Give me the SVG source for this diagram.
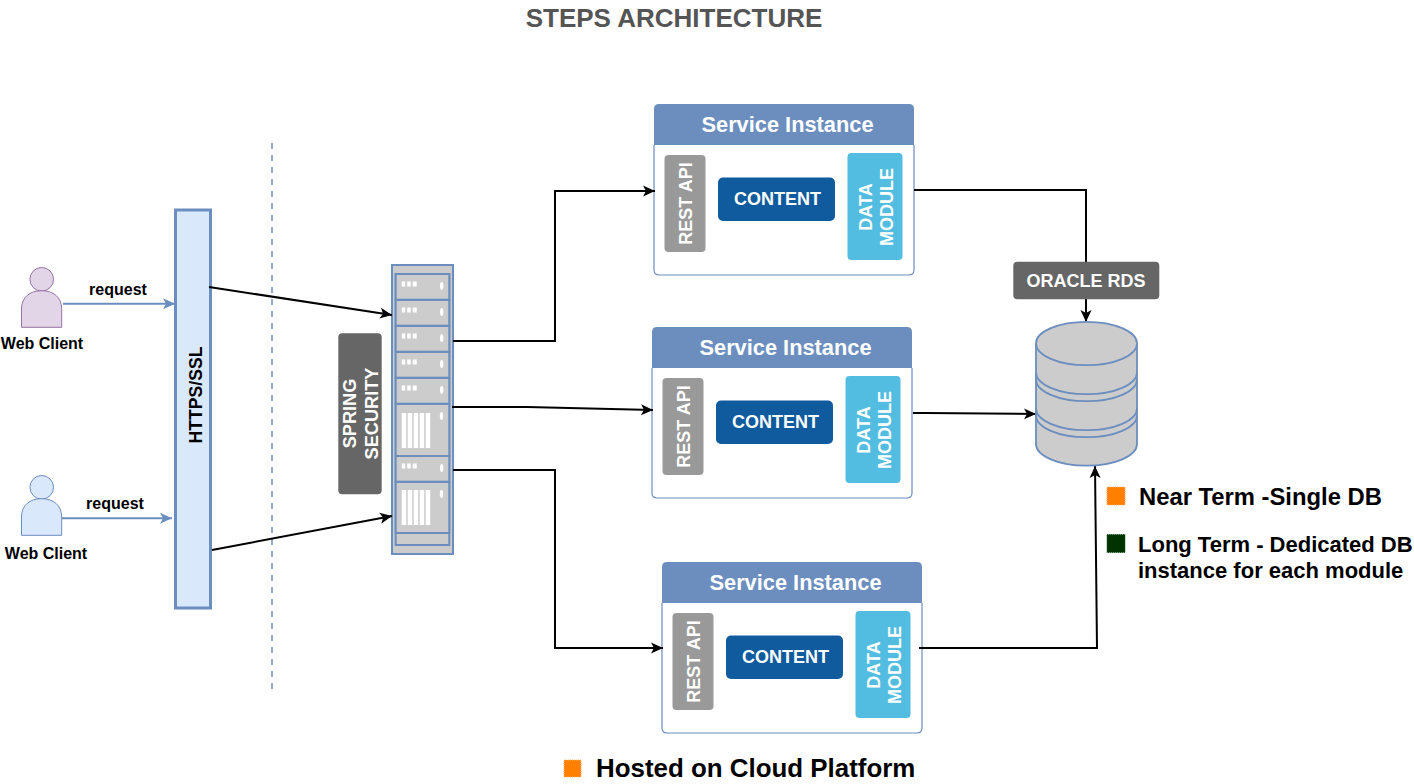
<svg xmlns="http://www.w3.org/2000/svg" xmlns:xlink="http://www.w3.org/1999/xlink" width="1414" height="784" viewBox="0 0 1414 784">
<style>
text{font-family:"Liberation Sans",Arial,sans-serif;font-weight:bold;text-anchor:middle}
.w{fill:#fff}.k{fill:#000}
.conn{fill:none;stroke:#000;stroke-width:2}
.blue{fill:none;stroke:#6c8ebf;stroke-width:2}
.srv{fill:#ccc;stroke:#6c8ebf;stroke-width:2}
.lt{fill:#fff}
.legend{text-anchor:start;fill:#000}
</style>
<defs>
<marker id="ah" markerUnits="userSpaceOnUse" markerWidth="14" markerHeight="12" refX="12" refY="6" orient="auto"><path d="M0,0.5 L12,6 L0,11.5 L3,6 Z" fill="#000"/></marker>
<marker id="ahb" markerUnits="userSpaceOnUse" markerWidth="14" markerHeight="12" refX="12" refY="6" orient="auto"><path d="M0,0.5 L12,6 L0,11.5 L3,6 Z" fill="#6c8ebf"/></marker>
<g id="svc">
<path d="M0,41 V5 Q0,0 5,0 H255 Q260,0 260,5 V41 Z" fill="#6c8ebf"/>
<path d="M0,41 V166 Q0,171 5,171 H255 Q260,171 260,166 V41" fill="#fff" stroke="#6c8ebf" stroke-width="1.2"/>
<text x="133.500" y="28" class="w" font-size="21.800">Service Instance</text>
<rect x="10.500" y="51" width="41" height="97" rx="4" fill="#999"/>
<text transform="translate(38,99.500) rotate(-90)" class="w" font-size="18">REST API</text>
<rect x="64" y="73.500" width="117" height="43.500" rx="5" fill="#105a9e"/>
<text x="123.500" y="101" class="w" font-size="18">CONTENT</text>
<rect x="193.500" y="49" width="55" height="107" rx="4" fill="#52bde0"/>
<text transform="rotate(-90) translate(-103,0)" class="w" font-size="18"><tspan x="0" y="218">DATA</tspan><tspan x="0" y="239">MODULE</tspan></text>
</g>
<g id="unit"><rect x="0" y="0" width="53.600" height="25.700" class="srv"/><path d="M6,7.500 h3.500 v5 h-3.500z M11.500,7.500 h3.500 v5 h-3.500z M17,7.500 h4 v5 h-4z" class="lt"/><ellipse cx="46" cy="12" rx="1.700" ry="4" class="lt"/></g>
<g id="bars"><path d="M6,9 h4.500 v35 h-4.500z M12,9 h4.500 v35 h-4.500z M18,9 h4.500 v35 h-4.500z M24,9 h4.500 v35 h-4.500z M30,9 h4.500 v35 h-4.500z" class="lt"/></g>
</defs>
<rect width="1414" height="784" fill="#fff"/>
<text id="title" x="674" y="26.500" font-size="26" fill="#555">STEPS ARCHITECTURE</text>
<g id="client1">
<circle cx="41.700" cy="279.300" r="11.800" fill="#e1d5e7" stroke="#9673a6" stroke-width="1"/>
<path d="M21.500,327.300 V309 C21.500,297 30,290.700 41.700,290.700 C53,290.700 61.700,297 61.700,309 V327.300 Z" fill="#e1d5e7" stroke="#9673a6" stroke-width="1"/>
<text x="42" y="349" class="k" font-size="16">Web Client</text>
</g>
<text id="req1" x="118" y="294.500" class="k" font-size="16">request</text>
<g id="client2">
<circle cx="41.700" cy="487.300" r="11.800" fill="#dae8fc" stroke="#6c8ebf" stroke-width="1"/>
<path d="M21.500,535.300 V517 C21.500,505 30,498.700 41.700,498.700 C53,498.700 61.700,505 61.700,517 V535.300 Z" fill="#dae8fc" stroke="#6c8ebf" stroke-width="1"/>
<text x="46" y="559" class="k" font-size="16">Web Client</text>
</g>
<text id="req2" x="115" y="509" class="k" font-size="16">request</text>
<g id="https">
<rect x="175.500" y="210" width="35" height="398" fill="#dae8fc" stroke="#6c8ebf" stroke-width="3"/>
<text transform="translate(202,395) rotate(-90)" class="k" font-size="17.600">HTTPS/SSL</text>
</g>
<g id="security">
<rect x="338.300" y="333.300" width="43.400" height="161" rx="4" fill="#666"/>
<text transform="rotate(-90) translate(-413.500,0)" class="w" font-size="18.200"><tspan x="0" y="356">SPRING</tspan><tspan x="0" y="378">SECURITY</tspan></text>
</g>
<g id="rack">
<rect x="392" y="265" width="61" height="289" fill="#ccc" stroke="#6c8ebf" stroke-width="2"/>
<rect x="395.700" y="274" width="53.600" height="271" fill="#ccc" stroke="#6c8ebf" stroke-width="2"/>
<use xlink:href="#unit" href="#unit" x="395.700" y="274"/>
<use xlink:href="#unit" href="#unit" x="395.700" y="300"/>
<use xlink:href="#unit" href="#unit" x="395.700" y="326"/>
<use xlink:href="#unit" href="#unit" x="395.700" y="352"/>
<use xlink:href="#unit" href="#unit" x="395.700" y="378"/>
<rect x="395.700" y="404" width="53.600" height="52" class="srv"/>
<use xlink:href="#bars" href="#bars" x="395.700" y="404"/>
<ellipse cx="441.500" cy="416" rx="1.700" ry="4" class="lt"/>
<use xlink:href="#unit" href="#unit" x="395.700" y="456"/>
<rect x="395.700" y="482" width="53.600" height="51" class="srv"/>
<use xlink:href="#bars" href="#bars" x="395.700" y="481"/>
<ellipse cx="441.500" cy="494" rx="1.700" ry="4" class="lt"/>
</g>
<use id="service1" xlink:href="#svc" href="#svc" x="654" y="104"/>
<use id="service2" xlink:href="#svc" href="#svc" x="652" y="327"/>
<use id="service3" xlink:href="#svc" href="#svc" x="662" y="562"/>
<g id="connectors">
<path d="M272,143 V690" fill="none" stroke="#6c8ebf" stroke-width="1.500" stroke-dasharray="6 6"/>
<path d="M63,303.700 H175" class="blue" marker-end="url(#ahb)"/>
<path d="M62,518.300 H172" class="blue" marker-end="url(#ahb)"/>
<path d="M209,287 L392,315" class="conn" marker-end="url(#ah)"/>
<path d="M212,550 L392,516" class="conn" marker-end="url(#ah)"/>
<path d="M453,341 H555 V191 H655" class="conn" marker-end="url(#ah)"/>
<path d="M452,407 H527 L653,410" class="conn" marker-end="url(#ah)"/>
<path d="M453,470 H555 V648 H663" class="conn" marker-end="url(#ah)"/>
<path d="M914,190 H1086 V322" class="conn" marker-end="url(#ah)"/>
<path d="M913,413 H925 L1036,414" class="conn" marker-end="url(#ah)"/>
<path d="M919,648 H1097 L1095,466" class="conn" marker-end="url(#ah)"/>
</g>
<g id="oracle">
<rect x="1013.300" y="261.700" width="146" height="37.600" rx="4" fill="#666"/>
<text x="1086" y="287" class="w" font-size="18">ORACLE RDS</text>
</g>
<g id="database" fill="none" stroke="#6c8ebf" stroke-width="1.800">
<path d="M1036,343.500 A50.500,21.700 0 0 1 1137,343.500 V444 A50.500,21.700 0 0 1 1036,444 Z" fill="#ccc"/>
<path d="M1036,343.500 A50.500,21.700 0 0 0 1137,343.500"/>
<path d="M1036,372.500 A50.500,21.700 0 0 0 1137,372.500"/>
<path d="M1036,379.500 A50.500,21.700 0 0 0 1137,379.500"/>
<path d="M1036,408.500 A50.500,21.700 0 0 0 1137,408.500"/>
<path d="M1036,415.500 A50.500,21.700 0 0 0 1137,415.500"/>
</g>
<g id="legend-near">
<rect x="1107" y="487" width="18" height="18" fill="#ff8000" stroke="#ffb366" stroke-dasharray="1 1"/>
<text x="1139" y="505" class="legend" font-size="23.800">Near Term -Single DB</text>
</g>
<g id="legend-long">
<rect x="1107" y="534.500" width="18" height="18" fill="#003300" stroke="#1a5c1a" stroke-dasharray="1 1"/>
<text x="1138" y="552" class="legend" font-size="22">Long Term - Dedicated DB</text>
<text x="1138" y="578" class="legend" font-size="22">instance for each module</text>
</g>
<g id="legend-cloud">
<rect x="564" y="760" width="17" height="17" fill="#ff8000" stroke="#ffb366" stroke-dasharray="1 1"/>
<text x="596" y="776.500" class="legend" font-size="25.900">Hosted on Cloud Platform</text>
</g>
</svg>
